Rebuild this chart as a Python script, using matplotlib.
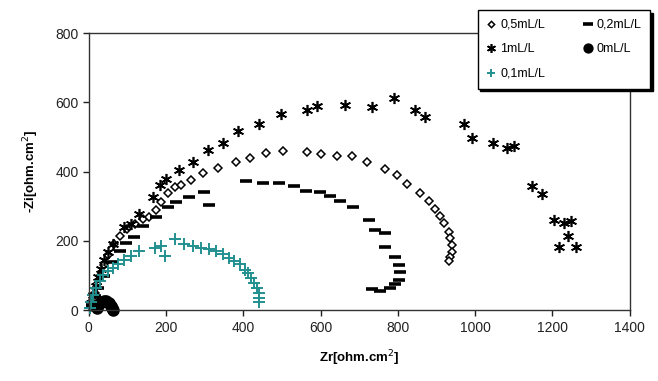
import matplotlib
matplotlib.use("Agg")
import matplotlib.pyplot as plt

plt.rcParams['font.family'] = ['Liberation Sans', 'DejaVu Sans']

# 0,5 mL/L (open diamonds)
zr_05 = [5, 10, 15, 22, 30, 40, 50, 65, 80, 100, 120, 140, 157, 174, 187, 204,
         222, 239, 265, 295, 334, 381, 416, 459, 503, 566, 600, 642, 681, 719,
         767, 797, 823, 858, 880, 897, 910, 919, 932, 936, 940, 940, 936, 932]
zi_05 = [10, 30, 50, 75, 100, 130, 160, 190, 215, 235, 250, 262, 268, 288, 312,
         337, 356, 361, 376, 395, 410, 429, 439, 454, 459, 456, 451, 446, 444,
         429, 408, 390, 364, 338, 315, 293, 271, 252, 227, 208, 188, 169, 154, 142]

# 0,2 mL/L (dashes)
zr_02 = [8, 15, 25, 40, 60, 80, 97, 118, 140, 174, 204, 226, 260, 299, 312, 407,
         450, 493, 532, 562, 598, 624, 650, 685, 724, 741, 767, 767, 793, 802,
         806, 802, 793, 780, 754, 732]
zi_02 = [15, 40, 65, 100, 140, 170, 195, 210, 244, 268, 298, 312, 327, 341, 305,
         373, 368, 366, 358, 344, 341, 330, 315, 298, 260, 232, 224, 183, 154,
         130, 110, 86, 76, 64, 55, 61]

# 1 mL/L (stars)
zr_1 = [5, 10, 18, 25, 32, 40, 50, 62, 92, 109, 131, 166, 183, 200, 234, 269,
        308, 347, 385, 440, 497, 564, 590, 663, 732, 789, 845, 871, 971, 992,
        1047, 1083, 1100, 1148, 1174, 1204, 1230, 1248, 1239, 1217, 1261]
zi_1 = [20, 45, 70, 95, 120, 145, 168, 190, 239, 249, 278, 327, 361, 380, 405,
        429, 463, 483, 517, 537, 566, 579, 591, 593, 588, 613, 579, 559, 537,
        498, 483, 468, 473, 359, 335, 261, 252, 257, 213, 183, 183]

# 0 mL/L (filled circles)
zr_0 = [20, 25, 30, 38, 45, 52, 57, 60, 62]
zi_0 = [5, 15, 22, 26, 25, 20, 12, 5, 1]

# 0,1 mL/L (teal crosses)
zr_01 = [2, 6, 10, 19, 28, 36, 49, 62, 75, 92, 109, 131, 170, 187, 196, 222,
         247, 269, 291, 312, 329, 347, 364, 377, 390, 403, 411, 420, 428, 434,
         441, 441, 441]
zi_01 = [5, 24, 44, 63, 83, 102, 112, 122, 132, 146, 156, 171, 180, 185, 156,
         205, 190, 185, 180, 176, 171, 161, 151, 141, 132, 117, 107, 93, 78, 63,
         49, 34, 24]

teal = '#22908f'

fig = plt.figure(figsize=(6.58, 3.81), dpi=100)
ax = fig.add_axes([0.135, 0.186, 0.822, 0.727])

h05, = ax.plot(zr_05, zi_05, linestyle='none', marker='D', markersize=4,
               markerfacecolor='white', markeredgecolor='black', markeredgewidth=1.1,
               clip_on=False)
h02, = ax.plot(zr_02, zi_02, linestyle='none', marker='_', markersize=9,
               color='black', markeredgewidth=2.6, clip_on=False)
h1, = ax.plot(zr_1, zi_1, linestyle='none', marker=(6, 2, 0), markersize=8,
              color='black', markeredgewidth=1.2, clip_on=False)
h0, = ax.plot(zr_0, zi_0, linestyle='none', marker='o', markersize=8,
              color='black', clip_on=False)
h01, = ax.plot(zr_01, zi_01, linestyle='none', marker='+', markersize=8,
               color=teal, markeredgewidth=1.4, clip_on=False)

ax.set_xlim(0, 1400)
ax.set_ylim(0, 800)
ax.set_xticks(range(0, 1401, 200))
ax.set_yticks(range(0, 801, 200))
ax.tick_params(direction='out', length=4, width=1, labelsize=10, colors='#222222')
for s in ax.spines.values():
    s.set_linewidth(1)
    s.set_color('#333333')

ax.set_xlabel('Zr[ohm.cm$^{2}$]', fontsize=9.5, fontweight='bold', labelpad=10)
ax.set_ylabel('-Zi[ohm.cm$^{2}$]', fontsize=9.5, fontweight='bold', labelpad=10)

leg = ax.legend([h05, h1, h01, h02, h0],
                ['0,5mL/L', '1mL/L', '0,1mL/L', '0,2mL/L', '0mL/L'],
                ncol=2, loc='upper left', bbox_to_anchor=(0.719, 1.083),
                borderaxespad=0, fontsize=9, frameon=True, fancybox=False,
                handlelength=0.8, handletextpad=0.3, columnspacing=3.0,
                labelspacing=1.0, borderpad=0.7, markerscale=0.8,
                shadow={'color': 'black', 'alpha': 1, 'ox': 2, 'oy': -2})
leg.get_frame().set_edgecolor('black')
leg.get_frame().set_linewidth(1)
leg.get_frame().set_alpha(1)

fig.savefig('out.png', dpi=100)
